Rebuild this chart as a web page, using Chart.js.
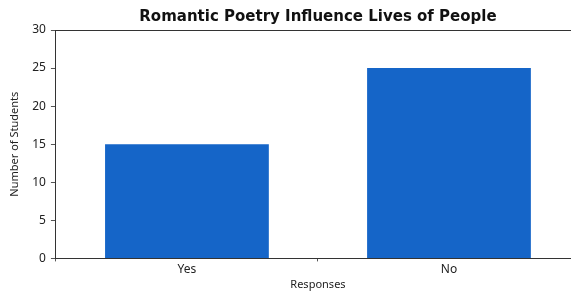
<!DOCTYPE html>
<html><head><meta charset="utf-8">
<script src="https://cdn.jsdelivr.net/npm/chart.js@4/dist/chart.umd.min.js"></script>
<style>html,body{margin:0;padding:0;background:#fff;overflow:hidden}#wrap{width:583px;height:291px}</style>
</head><body><div id="wrap"><canvas id="c" width="583" height="291"></canvas></div>
<script>
const categories = ["Yes", "No"];
const students = [15, 25];
const yTicks = [0, 5, 10, 15, 20, 25, 30];

const topLine = {
  id: 'topLine',
  afterDraw(chart) {
    const {ctx, chartArea} = chart;
    ctx.save();
    ctx.strokeStyle = '#333';
    ctx.lineWidth = 1;
    ctx.beginPath();
    ctx.moveTo(chartArea.left, chartArea.top + 0.5);
    ctx.lineTo(chartArea.right, chartArea.top + 0.5);
    ctx.stroke();
    ctx.restore();
  }
};

new Chart(document.getElementById('c'), {
  type: 'bar',
  data: { labels: categories, datasets: [{ data: students, backgroundColor: '#1565c8', categoryPercentage: 0.625, barPercentage: 1 }] },
  options: {
    responsive: false, animation: false,
    layout: { padding: { top: 5, left: 8, right: 3, bottom: 0 } },
    plugins: {
      legend: { display: false }, tooltip: { enabled: false },
      title: { display: true, fullSize: false, text: 'Romantic Poetry Influence Lives of People', color: '#111',
        font: { family: 'DejaVu Sans', size: 15, weight: 'bold' }, padding: { top: 3, bottom: 4 } }
    },
    scales: {
      x: {
        grid: { display: true, drawOnChartArea: false, tickLength: 3, color: '#555' },
        border: { color: '#333', width: 1 },
        ticks: { color: '#222', font: { family: 'Noto Sans', size: 12 }, padding: 1 },
        title: { display: true, text: 'Responses', color: '#222', font: { family: 'Noto Sans', size: 11 }, padding: { top: 0, bottom: 0 } }
      },
      y: {
        min: 0, max: 30,
        afterBuildTicks(s) { s.ticks = yTicks.map(v => ({ value: v })); },
        grid: { display: true, drawOnChartArea: false, tickLength: 5, color: '#555' },
        border: { color: '#333', width: 1 },
        ticks: { color: '#222', font: { family: 'Noto Sans', size: 12 }, padding: 5 },
        title: { display: true, text: 'Number of Students', color: '#222', font: { family: 'Noto Sans', size: 11 }, padding: { top: 0, bottom: 6 } }
      }
    }
  },
  plugins: [topLine]
});
</script></body></html>
